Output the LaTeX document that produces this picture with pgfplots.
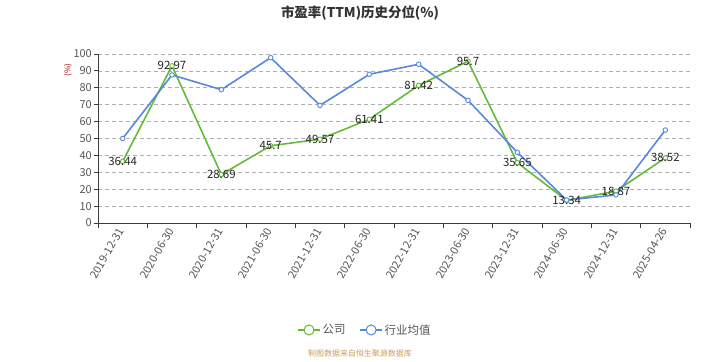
\documentclass[border=0pt]{standalone}
\usepackage{pgfplots}
\pgfplotsset{compat=1.18}
\usepackage{fontspec}
\setmainfont{Noto Sans CJK SC}
\definecolor{cgreen}{RGB}{98,188,55}
\definecolor{cblue}{RGB}{88,136,222}
\definecolor{tickgray}{RGB}{85,85,85}
\definecolor{gridgray}{RGB}{175,175,175}
\definecolor{axisgray}{RGB}{60,60,60}
\definecolor{src}{RGB}{196,160,90}
\begin{document}
\begin{tikzpicture}
\path (0bp,0bp) rectangle (720bp,360bp);
\node[font=\bfseries\fontsize{13.5}{15}\selectfont, text=black!80] at (360bp,347bp) {市盈率(TTM)历史分位(\%)};
\node[rotate=90, text=red!70!black, font=\fontsize{8}{9}\selectfont] at (68bp,290bp) {(\%)};
\node[text=src, font=\fontsize{8}{9}\selectfont] at (360bp,6bp) {制图数据来自恒生聚源数据库};
\begin{axis}[
  at={(98bp,137bp)}, anchor=south west, scale only axis,
  width=592bp, height=169bp,
  xmin=-0.5, xmax=11.5, ymin=0, ymax=100,
  axis x line*=bottom, axis y line*=left,
  axis line style={axisgray, line width=0.8pt},
  xtick={0,...,11},
  xticklabels={2019-12-31,2020-06-30,2020-12-31,2021-06-30,2021-12-31,2022-06-30,2022-12-31,2023-06-30,2023-12-31,2024-06-30,2024-12-31,2025-04-26},
  minor xtick={-0.5,0.5,...,11.5},
  major x tick style={draw=none},
  minor x tick style={axisgray, line width=0.8pt},
  ytick={0,10,...,100},
  y tick style={axisgray, line width=0.8pt},
  tick align=outside,
  major tick length=4bp, minor tick length=5bp,
  ymajorgrids,
  major grid style={gridgray, dash pattern=on 4bp off 3bp, line width=0.7pt},
  /pgf/number format/assume math mode=true,
  tick label style={text=tickgray, font=\fontsize{11}{12}\selectfont},
  xticklabel style={rotate=60, anchor=east, inner sep=2bp},
  yticklabel style={inner sep=2bp},
  legend style={at={(0.451,-0.633)}, anchor=center, draw=none, legend columns=2,
    font=\fontsize{11.5}{12}\selectfont, text=tickgray,
    /tikz/every even column/.append style={column sep=12bp}},
  legend image code/.code={%
    \draw[line width=1.2pt, mark=none] (0bp,0bp) -- (22bp,0bp);
    \draw[fill=white, line width=1pt, mark=none] (11bp,0bp) circle (5bp);},
  point meta=explicit symbolic,
  nodes near coords style={anchor=center, text=black!85, font=\fontsize{11.5}{12}\selectfont},
]
\addplot[cgreen, line width=1.6pt, mark=*, mark size=2.3pt, mark options={fill=white, line width=0.9pt}, nodes near coords]
 coordinates {(0,36.44)[36.44] (1,92.97)[92.97] (2,28.69)[28.69] (3,45.7)[45.7] (4,49.57)[49.57] (5,61.41)[61.41] (6,81.42)[81.42] (7,95.7)[95.7] (8,35.65)[35.65] (9,13.34)[13.34] (10,18.87)[18.87] (11,38.52)[38.52]};
\addlegendentry{公司}
\addplot[cblue, line width=1.6pt, mark=*, mark size=2.3pt, mark options={fill=white, line width=0.9pt}]
 coordinates {(0,50.0) (1,87.6) (2,78.9) (3,97.8) (4,69.6) (5,88.0) (6,93.9) (7,72.6) (8,41.8) (9,13.6) (10,16.6) (11,55.0)};
\addlegendentry{行业均值}
\end{axis}
\end{tikzpicture}
\end{document}
